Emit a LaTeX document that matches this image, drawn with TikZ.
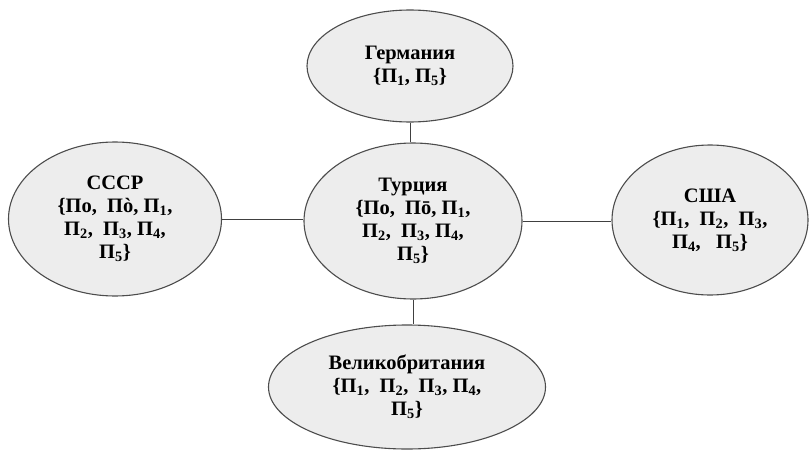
\documentclass[tikz,border=0pt]{standalone}
\usepackage{fontspec}
\setmainfont{Liberation Serif}
\usetikzlibrary{shapes.geometric}
\newcommand\ssb[1]{\textsubscript{#1}}
\tikzset{
  country/.style={ellipse, draw=black!70, line width=1.1pt, fill=black!7,
    inner sep=0pt, align=center, font=\fontsize{20.5}{23}\selectfont\bfseries},
  link/.style={draw=black!75, line width=1pt}
}
\begin{document}
\begin{tikzpicture}[x=1pt,y=-1pt]
\useasboundingbox (0,0) rectangle (810,452);
\node[country, minimum width=206pt, minimum height=112pt] (de) at (410,66)
  {Германия\\\{П\ssb{1}, П\ssb{5}\}};
\node[country, minimum width=218pt, minimum height=156pt] (tr) at (413,221)
  {Турция\\\{По,\ \ Пō, П\ssb{1},\\П\ssb{2},\ \ П\ssb{3}, П\ssb{4},\\П\ssb{5}\}};
\node[country, minimum width=213pt, minimum height=154pt] (su) at (115,219)
  {СССР\\\{По,\ \ Пò, П\ssb{1},\\П\ssb{2},\ \ П\ssb{3}, П\ssb{4},\\П\ssb{5}\}};
\node[country, minimum width=196pt, minimum height=150pt] (us) at (710,220)
  {США\\\{П\ssb{1},\ \ П\ssb{2},\ \ П\ssb{3},\\П\ssb{4},\ \ \ П\ssb{5}\}};
\node[country, minimum width=277pt, minimum height=124pt] (gb) at (407,387)
  {Великобритания\\\{П\ssb{1},\ \ П\ssb{2},\ \ П\ssb{3}, П\ssb{4},\\П\ssb{5}\}};
\draw[link] (de.south) -- (de.south |- tr.north);
\draw[link] (tr.south) -- (tr.south |- gb.north);
\draw[link] (su.east) -- (su.east -| tr.west);
\draw[link] (tr.east) -- (tr.east -| us.west);
\end{tikzpicture}
\end{document}
